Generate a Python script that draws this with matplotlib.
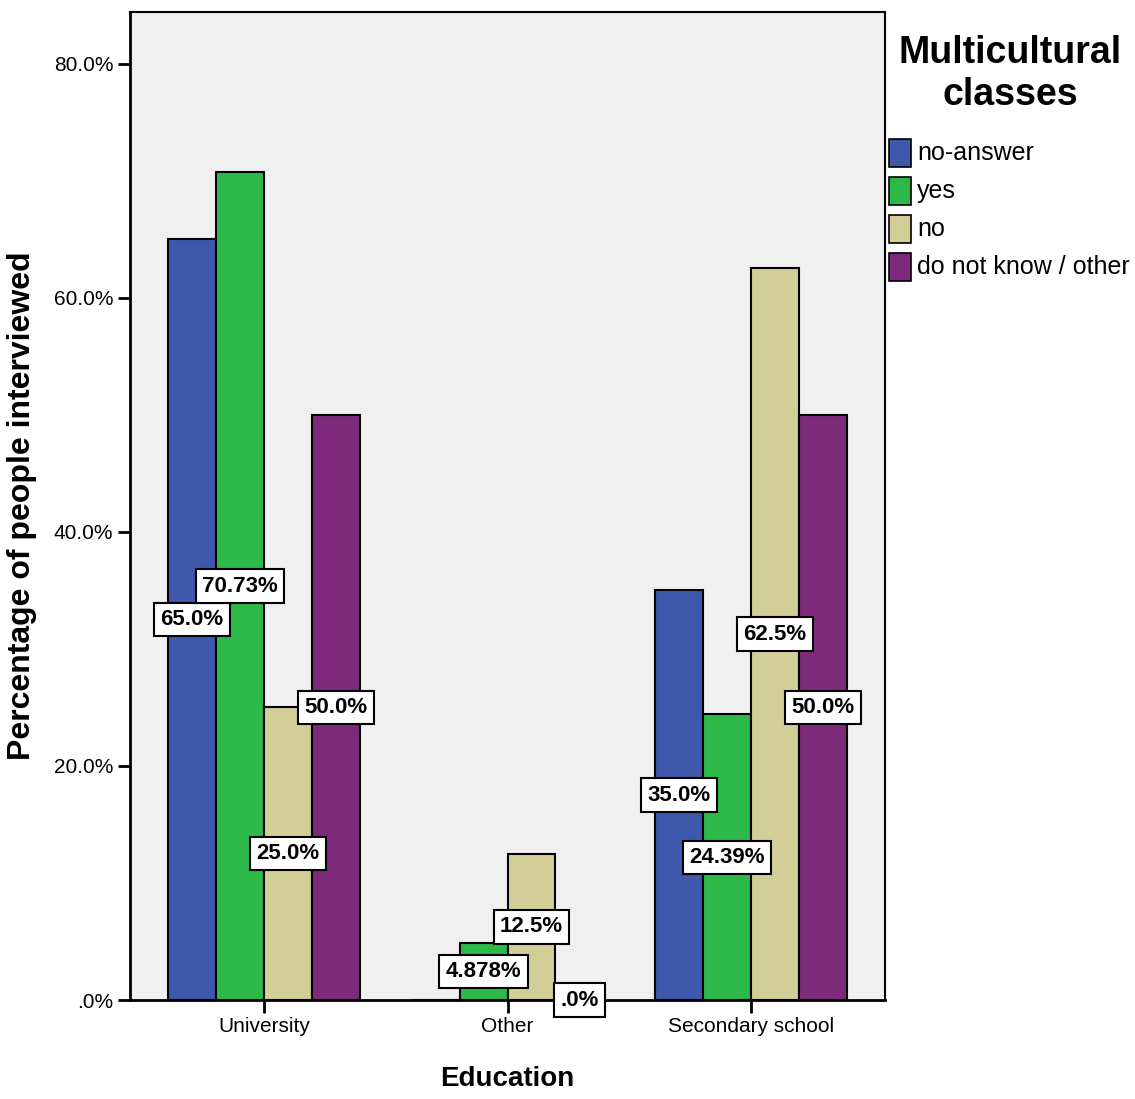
import numpy as np
import matplotlib.pyplot as plt
from matplotlib.patches import Rectangle

# Data
groups = ['University', 'Other', 'Secondary school']
series = ['no-answer', 'yes', 'no', 'do not know / other']
no_answer = [65.0, 0.0, 35.0]
yes = [70.73, 4.878, 24.39]
no = [25.0, 12.5, 62.5]
dont_know = [50.0, 0.0, 50.0]
value_labels = [
    ['65.0%', None, '35.0%'],
    ['70.73%', '4.878%', '24.39%'],
    ['25.0%', '12.5%', '62.5%'],
    ['50.0%', '.0%', '50.0%'],
]
yticks = [0, 20, 40, 60, 80]
ytick_labels = ['.0%', '20.0%', '40.0%', '60.0%', '80.0%']

colors = ['#3E58AC', '#2DB84A', '#D3CE97', '#7D2A7A']
values = [no_answer, yes, no, dont_know]

plt.rcParams['font.family'] = ['Liberation Sans Narrow', 'Liberation Sans', 'DejaVu Sans']

fig = plt.figure(figsize=(11.35, 10.99), dpi=100)
ax = fig.add_axes([130 / 1135, 1 - 1000 / 1099, 755 / 1135, 988 / 1099])
ax.set_facecolor('#F0F0F0')

x = np.arange(len(groups))
w = 0.197
for i, (vals, col) in enumerate(zip(values, colors)):
    pos = x + (i - 1.5) * w
    ax.bar(pos, vals, width=w, color=col, edgecolor='black', linewidth=1.5, zorder=2)
    for p, v, lab in zip(pos, vals, value_labels[i]):
        if lab is None:
            continue
        ax.text(p, v / 2, lab, ha='center', va='center', fontsize=16, fontweight='bold',
                bbox=dict(boxstyle='square,pad=0.28', facecolor='white', edgecolor='black', linewidth=1.5),
                zorder=3, clip_on=False)

ax.set_xlim(-0.55, 2.55)
ax.set_ylim(0, 84.4)
ax.set_yticks(yticks)
ax.set_yticklabels(ytick_labels, fontsize=15)
ax.set_xticks(x)
ax.set_xticklabels(groups, fontsize=15)
ax.tick_params(axis='both', direction='out', length=9, width=2, pad=3)
for s in ax.spines.values():
    s.set_linewidth(1.5)
ax.spines['bottom'].set_linewidth(2)
ax.spines['left'].set_linewidth(2)

ax.set_ylabel('Percentage of people interviewed', fontsize=23, fontweight='bold',
              family=['Liberation Sans', 'DejaVu Sans'], labelpad=12)
ax.set_xlabel('Education', fontsize=20, fontweight='bold', labelpad=22)

# Legend built on the right
fig.text(1010 / 1135, 1 - 74 / 1099, 'Multicultural\nclasses', ha='center', va='center',
         fontsize=27, fontweight='bold', family=['Liberation Sans', 'DejaVu Sans'], linespacing=1.2)
for i, (name, col) in enumerate(zip(series, colors)):
    yc = 153 + 38 * i
    fig.add_artist(Rectangle((889 / 1135, 1 - (yc + 14) / 1099), 22 / 1135, 28 / 1099,
                             facecolor=col, edgecolor='black', linewidth=1.2,
                             transform=fig.transFigure))
    fig.text(917 / 1135, 1 - yc / 1099, name, ha='left', va='center', fontsize=18)

fig.savefig('out.png', dpi=100)
